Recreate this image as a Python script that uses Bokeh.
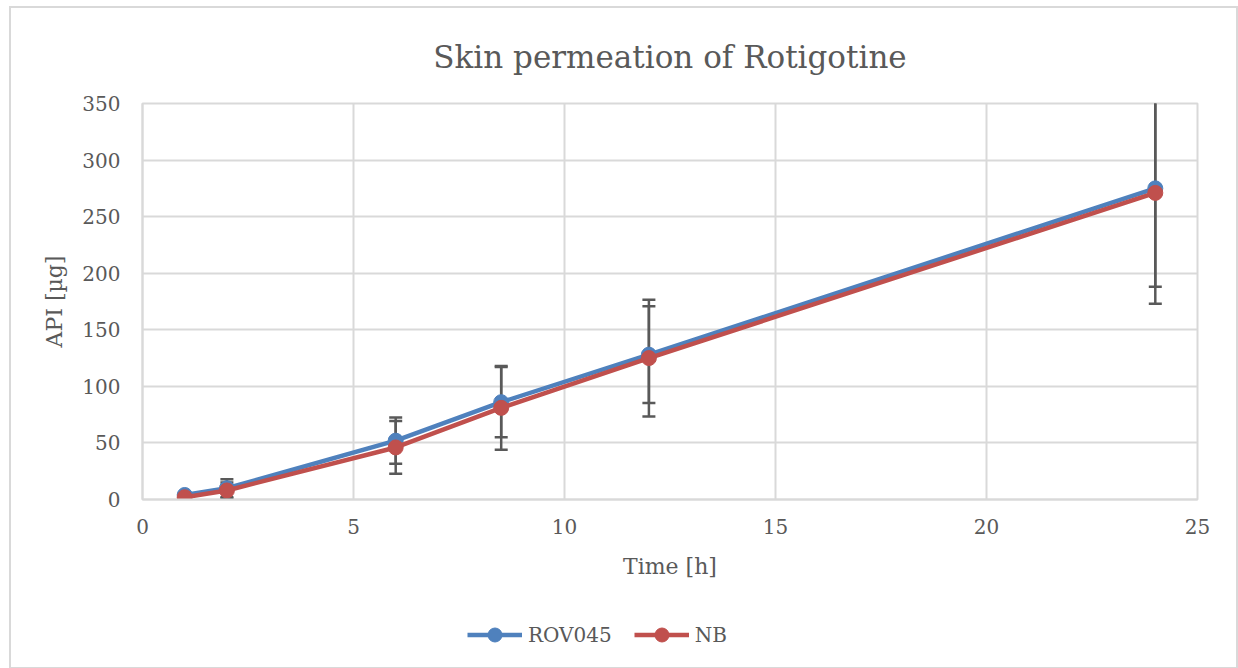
from bokeh.plotting import figure
from bokeh.layouts import column
from bokeh.models import Range1d, FixedTicker, Legend, LegendItem, ColumnDataSource
from bokeh.embed import file_html
from bokeh.resources import INLINE

# ---- data ----
time_h = [1, 2, 6, 8.5, 12, 24]
rov045 = [4, 10, 52, 86, 128, 275]
rov045_err = [2, 8, 20.5, 31, 42.7, 87]
nb = [2, 8, 46, 81, 125, 271]
nb_err = [2, 7, 23.3, 37, 51.6, 98]
series_names = ["ROV045", "NB"]
x_ticks = [0, 5, 10, 15, 20, 25]
y_ticks = [0, 50, 100, 150, 200, 250, 300, 350]

FONT = "DejaVu Serif"
TXT = "#595959"
GRID = "#d9d9d9"
BLUE = "#4f81bd"
RED = "#c0504d"
ERR = "#595959"

W = 1225
p = figure(width=W, height=599, output_backend="svg", toolbar_location=None,
           x_range=Range1d(0, 25), y_range=Range1d(0, 350))
p.min_border_left = 131
p.min_border_right = 39
p.min_border_top = 95
p.min_border_bottom = 108
p.outline_line_color = GRID
p.outline_line_width = 2
p.background_fill_color = "white"
p.border_fill_color = "white"

p.title.text = "Skin permeation of Rotigotine"
p.title.align = "center"
p.title.vertical_align = "top"
p.title.text_font = FONT
p.title.text_font_size = "31px"
p.title.text_font_style = "normal"
p.title.text_color = TXT
p.title.offset = 0
p.title.standoff = 54

for ax in (p.xaxis[0], p.yaxis[0]):
    ax.axis_line_color = GRID
    ax.axis_line_width = 2
    ax.major_tick_line_color = None
    ax.minor_tick_line_color = None
    ax.major_label_text_font = FONT
    ax.major_label_text_font_size = "20px"
    ax.major_label_text_color = TXT
    ax.axis_label_text_font = FONT
    ax.axis_label_text_font_size = "22px"
    ax.axis_label_text_font_style = "normal"
    ax.axis_label_text_color = TXT

p.xaxis.ticker = FixedTicker(ticks=x_ticks)
p.yaxis.ticker = FixedTicker(ticks=y_ticks)
p.xaxis.axis_label = "Time [h]"
p.yaxis.axis_label = "API [µg]"
p.xaxis.major_label_standoff = 13
p.yaxis.major_label_standoff = 16
p.xaxis.axis_label_standoff = 17
p.yaxis.axis_label_standoff = 12

p.xgrid.ticker = FixedTicker(ticks=x_ticks)
p.ygrid.ticker = FixedTicker(ticks=y_ticks)
p.grid.grid_line_color = GRID
p.grid.grid_line_width = 2

for vals, errs in ((rov045, rov045_err), (nb, nb_err)):
    lo = [v - e for v, e in zip(vals, errs)]
    hi = [v + e for v, e in zip(vals, errs)]
    src = ColumnDataSource(dict(x=time_h, y=vals, lo=lo, hi=hi))
    p.segment(x0="x", y0="lo", x1="x", y1="hi", source=src, line_color=ERR, line_width=2.5)
    p.scatter(x="x", y="lo", source=src, marker="dash", size=13, line_color=ERR, line_width=2.5)
    p.scatter(x="x", y="hi", source=src, marker="dash", size=13, line_color=ERR, line_width=2.5)

colors = [BLUE, RED]
for vals, color in zip((rov045, nb), colors):
    src = ColumnDataSource(dict(x=time_h, y=vals))
    p.line(x="x", y="y", source=src, line_color=color, line_width=4.5)
    p.scatter(x="x", y="y", source=src, marker="circle", size=15, fill_color=color, line_color=color)

# ---- legend strip below the chart (renderers hold the same series, out of view) ----
lf = figure(width=W, height=60, output_backend="svg", toolbar_location=None,
            x_range=Range1d(100, 101), y_range=Range1d(1000, 1001))
lf.axis.visible = False
lf.grid.visible = False
lf.outline_line_color = None
lf.min_border = 0
lf.border_fill_color = "white"
lf.background_fill_color = "white"
items = []
for name, vals, color in zip(series_names, (rov045, nb), colors):
    src = ColumnDataSource(dict(x=time_h, y=vals))
    l = lf.line(x="x", y="y", source=src, line_color=color, line_width=4.5)
    s = lf.scatter(x="x", y="y", source=src, marker="circle", size=15, fill_color=color, line_color=color)
    items.append(LegendItem(label=name, renderers=[l, s]))
legend = Legend(items=items, orientation="horizontal", location=(325, 15))
legend.label_text_font = FONT
legend.label_text_font_size = "20px"
legend.label_text_color = TXT
legend.glyph_width = 55
legend.glyph_height = 35
legend.spacing = 22
legend.label_standoff = 6
legend.border_line_color = None
legend.background_fill_alpha = 0
legend.margin = 0
legend.padding = 0
lf.add_layout(legend, "center")

layout = column(p, lf, spacing=0)
layout.styles = {"border": "2px solid #d9d9d9", "margin-left": "9px", "margin-top": "6px"}

open("out.html", "w").write(file_html(layout, INLINE))
